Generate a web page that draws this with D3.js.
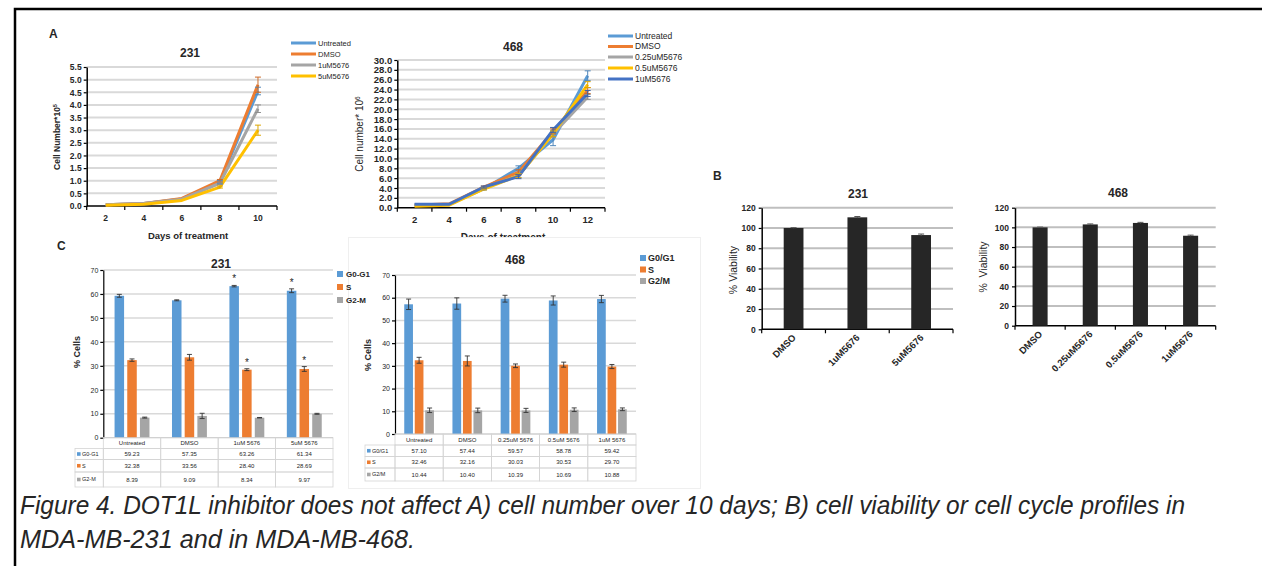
<!DOCTYPE html>
<html><head><meta charset="utf-8">
<script src="https://cdn.jsdelivr.net/npm/d3@7"></script>
<style>
body{margin:0;background:#fff}
svg{display:block}
text{font-family:"Liberation Sans",Arial,sans-serif;fill:#262626}
</style>
</head><body>
<svg id="c" width="1262" height="566"></svg>
<script>
// ---------------- Panel A: 231 growth ----------------
const daysA231 = ["2","4","6","8","10"];
const seriesA231 = ["Untreated","DMSO","1uM5676","5uM5676"];
const a231Untreated = [0.05,0.10,0.28,0.95,4.55];
const a231DMSO      = [0.05,0.10,0.30,1.00,4.80];
const a231uM1       = [0.05,0.10,0.27,0.90,3.85];
const a231uM5       = [0.03,0.07,0.22,0.75,3.00];
const a231UntreatedErr = [0,0,0,0.05,0.15];
const a231DMSOErr      = [0,0,0,0.05,0.30];
const a231uM1Err       = [0,0,0,0.05,0.15];
const a231uM5Err       = [0,0,0,0.04,0.20];
const yTicksA231 = [0,0.5,1,1.5,2,2.5,3,3.5,4,4.5,5,5.5];

// ---------------- Panel A: 468 growth ----------------
const daysA468 = ["2","4","6","8","10","12"];
const seriesA468 = ["Untreated","DMSO","0.25uM5676","0.5uM5676","1uM5676"];
const a468Untreated = [0.6,0.7,3.8,8.0,13.8,26.8];
const a468DMSO      = [0.5,0.8,4.2,7.2,15.5,23.8];
const a468uM025     = [0.5,0.7,4.0,6.5,15.0,22.5];
const a468uM05      = [0.3,0.5,3.8,6.5,15.0,25.0];
const a468uM1       = [0.7,0.7,4.2,6.3,15.8,23.2];
const a468UntreatedErr = [0,0,0.2,0.5,1.2,1.0];
const a468DMSOErr      = [0,0,0.2,0.5,0.5,0.6];
const a468uM025Err     = [0,0,0.2,0.4,0.6,0.5];
const a468uM05Err      = [0,0,0.2,0.4,0.6,0.6];
const a468uM1Err       = [0,0,0.2,0.4,0.5,0.6];
const yTicksA468 = [0,2,4,6,8,10,12,14,16,18,20,22,24,26,28,30];

// ---------------- Panel C: 231 cell cycle ----------------
const catsC231 = ["Untreated","DMSO","1uM 5676","5uM 5676"];
const phasesC231 = ["G0-G1","S","G2-M"];
const c231G0G1 = [59.23,57.35,63.26,61.34];
const c231S    = [32.38,33.56,28.40,28.69];
const c231G2M  = [8.39,9.09,8.34,9.97];
const c231G0G1Err = [0.6,0.2,0.3,0.8];
const c231SErr    = [0.5,1.2,0.4,1.0];
const c231G2MErr  = [0.2,1.1,0.1,0.2];
const c231SigCats = ["1uM 5676","5uM 5676"];
const c231SigPhases = ["G0-G1","S"];
const yTicksC = [0,10,20,30,40,50,60,70];

// ---------------- Panel C: 468 cell cycle ----------------
const catsC468 = ["Untreated","DMSO","0.25uM 5676","0.5uM 5676","1uM 5676"];
const phasesC468 = ["G0/G1","S","G2/M"];
const c468G0G1 = [57.10,57.44,59.57,58.78,59.42];
const c468S    = [32.46,32.16,30.03,30.53,29.70];
const c468G2M  = [10.44,10.40,10.39,10.69,10.88];
const c468G0G1Err = [2.3,2.5,1.5,2.0,1.6];
const c468SErr    = [1.3,2.2,0.8,1.1,0.9];
const c468G2MErr  = [1.0,1.0,0.9,0.8,0.6];

// ---------------- Panel B: viability ----------------
const catsB231 = ["DMSO","1uM5676","5uM5676"];
const viabB231 = [100,110.5,93];
const viabB231Err = [0.3,0.8,1.0];
const catsB468 = ["DMSO","0.25uM5676","0.5uM5676","1uM5676"];
const viabB468 = [100,103,104.5,91.5];
const viabB468Err = [0.3,0.5,0.6,0.6];
const yTicksB = [0,20,40,60,80,100,120];

const captionLines = [
  "Figure 4. DOT1L inhibitor does not affect A) cell number over 10 days; B) cell viability or cell cycle profiles in",
  "MDA-MB-231 and in MDA-MB-468."
];

const BLUE="#5b9bd5", ORANGE="#ed7d31", GRAY="#a5a5a5", YELLOW="#ffc000", DBLUE="#4472c4";

const svg = d3.select("#c");

// frame
svg.append("path").attr("d","M15,566V9H1262").attr("fill","none").attr("stroke","#000").attr("stroke-width",2.5);

function styleAxis(ax, fs, bold){
  ax.select(".domain").attr("stroke","#000").attr("stroke-width",1.5);
  ax.selectAll(".tick line").attr("stroke","#000").attr("stroke-width",1.2);
  ax.selectAll("text").attr("font-size",fs).attr("font-weight",bold?"bold":"normal").attr("fill","#262626");
}

function boundaryTicks(g, x, cats, yAxis, len){
  const b = cats.map(c=>x(c)).concat([x.range()[1]]);
  g.selectAll(null).data(b).join("line")
    .attr("x1",d=>d).attr("x2",d=>d).attr("y1",yAxis).attr("y2",yAxis+len)
    .attr("stroke","#000").attr("stroke-width",1.2);
}

function lineChart(o){
  const g = svg.append("g");
  const x = d3.scaleBand().domain(o.cats).range([o.x0,o.x1]);
  const y = d3.scaleLinear().domain([0,o.max]).range([o.yb,o.yt]);
  g.selectAll(null).data(o.ticks.slice(1)).join("line")
    .attr("x1",o.x0).attr("x2",o.x1).attr("y1",d=>y(d)).attr("y2",d=>y(d))
    .attr("stroke","#d9d9d9").attr("stroke-width",2);
  const ya = g.append("g").attr("transform",`translate(${o.x0},0)`)
    .call(d3.axisLeft(y).tickValues(o.ticks).tickFormat(d3.format(".1f")).tickSize(3).tickSizeOuter(0).tickPadding(2));
  styleAxis(ya,o.tfs,true);
  const xa = g.append("g").attr("transform",`translate(0,${o.yb})`)
    .call(d3.axisBottom(x).tickSize(0).tickPadding(o.xpad));
  styleAxis(xa,o.tfs,true);
  xa.select(".domain").attr("d",`M${o.x0},0H${o.x1}`);
  boundaryTicks(g,x,o.cats,o.yb,4);
  const line = d3.line().x((d,i)=>x(o.cats[i])+x.bandwidth()/2).y(d=>y(d));
  o.series.forEach(s=>{
    g.append("path").datum(s.values).attr("d",line).attr("fill","none")
      .attr("stroke",s.color).attr("stroke-width",3).attr("stroke-linejoin","round");
  });
  o.series.forEach(s=>{
    s.values.forEach((v,i)=>{
      const e=s.errs[i]; if(!e) return;
      const cx=x(o.cats[i])+x.bandwidth()/2;
      const eg=g.append("g").attr("stroke",d3.color(s.color).darker(0.4)).attr("stroke-width",1);
      eg.append("line").attr("x1",cx).attr("x2",cx).attr("y1",y(v-e)).attr("y2",y(v+e));
      eg.append("line").attr("x1",cx-3).attr("x2",cx+3).attr("y1",y(v-e)).attr("y2",y(v-e));
      eg.append("line").attr("x1",cx-3).attr("x2",cx+3).attr("y1",y(v+e)).attr("y2",y(v+e));
    });
  });
  o.series.forEach((s,i)=>{
    const ly=o.leg.y[i];
    g.append("line").attr("x1",o.leg.x).attr("x2",o.leg.x+o.leg.w).attr("y1",ly).attr("y2",ly)
      .attr("stroke",s.color).attr("stroke-width",3);
    g.append("text").attr("x",o.leg.x+o.leg.w+2).attr("y",ly).attr("dy","0.35em")
      .attr("font-size",o.leg.fs).text(s.name);
  });
  g.append("text").attr("x",o.title[0]).attr("y",o.title[1]).attr("text-anchor","middle")
    .attr("font-size",12).attr("font-weight","bold").text(o.titleText);
  g.append("text").attr("x",o.xl[0]).attr("y",o.xl[1]).attr("text-anchor","middle")
    .attr("font-size",o.xlfs).attr("font-weight","bold").text("Days of treatment");
  const yl=g.append("text").attr("transform",`translate(${o.yl[0]},${o.yl[1]}) rotate(-90)`)
    .attr("text-anchor","middle").attr("font-size",o.ylfs).attr("font-weight",o.ylbold?"bold":"normal");
  yl.append("tspan").text(o.ylText[0]);
  yl.append("tspan").attr("dy",-3).attr("font-size",o.ylfs*0.65).text(o.ylText[1]);
  return g;
}

lineChart({
  cats:daysA231, x0:86.7, x1:277, yb:206, yt:67, max:5.5, ticks:yTicksA231, tfs:8.5, xpad:9,
  series:[
    {name:seriesA231[0],values:a231Untreated,errs:a231UntreatedErr,color:BLUE},
    {name:seriesA231[1],values:a231DMSO,errs:a231DMSOErr,color:ORANGE},
    {name:seriesA231[2],values:a231uM1,errs:a231uM1Err,color:GRAY},
    {name:seriesA231[3],values:a231uM5,errs:a231uM5Err,color:YELLOW}],
  leg:{x:291,w:25,y:[43,54,65,76],fs:7.5},
  title:[190,57], titleText:"231", xl:[188,239], xlfs:9.5,
  yl:[60,137], ylfs:8.5, ylbold:true, ylText:["Cell Number*10","5"]
});

lineChart({
  cats:daysA468, x0:397.3, x1:605, yb:207.7, yt:60, max:30, ticks:yTicksA468, tfs:9.5, xpad:9,
  series:[
    {name:seriesA468[0],values:a468Untreated,errs:a468UntreatedErr,color:BLUE},
    {name:seriesA468[1],values:a468DMSO,errs:a468DMSOErr,color:ORANGE},
    {name:seriesA468[2],values:a468uM025,errs:a468uM025Err,color:GRAY},
    {name:seriesA468[3],values:a468uM05,errs:a468uM05Err,color:YELLOW},
    {name:seriesA468[4],values:a468uM1,errs:a468uM1Err,color:DBLUE}],
  leg:{x:608,w:25,y:[36,46.5,57,68,79],fs:8.5},
  title:[513,51], titleText:"468", xl:[503,241], xlfs:10,
  yl:[363,134], ylfs:10, ylbold:false, ylText:["Cell number* 10","6"]
});

// panel letters
svg.append("text").attr("x",49).attr("y",38).attr("font-size",12).attr("font-weight","bold").text("A");
svg.append("text").attr("x",713).attr("y",180).attr("font-size",12).attr("font-weight","bold").text("B");
svg.append("text").attr("x",57).attr("y",250).attr("font-size",12).attr("font-weight","bold").text("C");

// C 468 image background
svg.append("rect").attr("x",348.5).attr("y",237.5).attr("width",352).attr("height",251)
  .attr("fill","#fff").attr("stroke","#efefef").attr("stroke-width",1);

function groupedBar(o){
  const g = svg.append("g");
  const x = d3.scaleBand().domain(o.cats).range([o.x0,o.x1]);
  const y = d3.scaleLinear().domain([0,70]).range([o.yb,o.yt]);
  const x1 = d3.scaleBand().domain(o.phases).range([0,o.gw]).paddingInner(o.pi);
  g.selectAll(null).data(yTicksC.slice(1)).join("line")
    .attr("x1",o.x0).attr("x2",o.x1).attr("y1",d=>y(d)).attr("y2",d=>y(d))
    .attr("stroke","#d9d9d9").attr("stroke-width",1.5);
  const ya = g.append("g").attr("transform",`translate(${o.x0},0)`)
    .call(d3.axisLeft(y).tickValues(yTicksC).tickSize(3).tickSizeOuter(0).tickPadding(2));
  styleAxis(ya,o.tfs,false);
  ya.select(".domain").attr("stroke-width",1.2);
  g.append("line").attr("x1",o.x0).attr("x2",o.x1).attr("y1",o.yb).attr("y2",o.yb).attr("stroke","#bfbfbf").attr("stroke-width",1);
  const colors=[BLUE,ORANGE,GRAY];
  o.data.forEach((vals,si)=>{
    vals.forEach((v,ci)=>{
      const bx = x(o.cats[ci])+x.bandwidth()/2-o.gw/2+x1(o.phases[si]);
      g.append("rect").attr("x",bx).attr("y",y(v)).attr("width",x1.bandwidth()).attr("height",y(0)-y(v))
        .attr("fill",colors[si]);
      const cx=bx+x1.bandwidth()/2, e=o.errs[si][ci];
      const eg=g.append("g").attr("stroke","#333").attr("stroke-width",0.9);
      eg.append("line").attr("x1",cx).attr("x2",cx).attr("y1",y(v-e)).attr("y2",y(v+e));
      eg.append("line").attr("x1",cx-2.5).attr("x2",cx+2.5).attr("y1",y(v-e)).attr("y2",y(v-e));
      eg.append("line").attr("x1",cx-2.5).attr("x2",cx+2.5).attr("y1",y(v+e)).attr("y2",y(v+e));
      if(o.sigCats && o.sigCats.includes(o.cats[ci]) && o.sigPhases.includes(o.phases[si])){
        g.append("text").attr("x",cx).attr("y",y(v+e)-3).attr("text-anchor","middle")
          .attr("font-size",10).attr("fill","#404040").text("*");
      }
    });
  });
  g.append("text").attr("x",o.title[0]).attr("y",o.title[1]).attr("text-anchor","middle")
    .attr("font-size",12).attr("font-weight","bold").text(o.titleText);
  g.append("text").attr("transform",`translate(${o.yl[0]},${o.yl[1]}) rotate(-90)`)
    .attr("text-anchor","middle").attr("font-size",9).attr("font-weight","bold").text("% Cells");
  o.phases.forEach((p,i)=>{
    g.append("rect").attr("x",o.leg.x).attr("y",o.leg.y[i]-3).attr("width",6).attr("height",6).attr("fill",colors[i]);
    g.append("text").attr("x",o.leg.x+o.leg.dx).attr("y",o.leg.y[i]).attr("dy","0.35em")
      .attr("font-size",o.leg.fs).attr("font-weight","bold").text(p);
  });
  const rb=o.rows;
  const tg=g.append("g").attr("stroke","#d4d4d4").attr("stroke-width",0.8).attr("fill","none");
  o.cats.forEach(c=>{
    rb.slice(0,-1).forEach((r,ri)=>{
      tg.append("rect").attr("x",x(c)).attr("y",r).attr("width",x.bandwidth()).attr("height",rb[ri+1]-r);
    });
  });
  rb.slice(1,-1).forEach((r,ri)=>{
    tg.append("rect").attr("x",o.lx).attr("y",r).attr("width",o.x0-o.lx).attr("height",rb[ri+2]-r);
  });
  o.cats.forEach(c=>{
    g.append("text").attr("x",x(c)+x.bandwidth()/2).attr("y",(rb[0]+rb[1])/2).attr("dy","0.35em")
      .attr("text-anchor","middle").attr("font-size",6).attr("fill","#404040").text(c);
  });
  o.phases.forEach((p,si)=>{
    const cy=(rb[si+1]+rb[si+2])/2;
    g.append("rect").attr("x",o.lx+2).attr("y",cy-1.8).attr("width",3.6).attr("height",3.6).attr("fill",colors[si]);
    g.append("text").attr("x",o.lx+7).attr("y",cy).attr("dy","0.35em").attr("font-size",5.5).attr("fill","#404040").text(p);
    o.data[si].forEach((v,ci)=>{
      g.append("text").attr("x",x(o.cats[ci])+x.bandwidth()/2).attr("y",cy).attr("dy","0.35em")
        .attr("text-anchor","middle").attr("font-size",6).attr("fill","#404040").text(v.toFixed(2));
    });
  });
}

groupedBar({
  cats:catsC468, phases:phasesC468, data:[c468G0G1,c468S,c468G2M], errs:[c468G0G1Err,c468SErr,c468G2MErr],
  x0:395, x1:636, yb:434, yt:275, gw:29.7, pi:0.17, tfs:7,
  title:[515,264], titleText:"468", yl:[371,355],
  leg:{x:640,dx:8,y:[258,269.5,281],fs:9},
  rows:[434,445,456.5,468,481], lx:365
});

groupedBar({
  cats:catsC231, phases:phasesC231, data:[c231G0G1,c231S,c231G2M], errs:[c231G0G1Err,c231SErr,c231G2MErr],
  x0:103.3, x1:333, yb:437.7, yt:270, gw:34.9, pi:0.25, tfs:7,
  title:[221,268], titleText:"231", yl:[80,352],
  sigCats:c231SigCats, sigPhases:c231SigPhases,
  leg:{x:337,dx:9,y:[274,287,300],fs:8},
  rows:[437.7,448.5,459.5,472,487], lx:75
});

function viabChart(o){
  const g = svg.append("g");
  const x = d3.scaleBand().domain(o.cats).range([o.x0,o.x1]);
  const y = d3.scaleLinear().domain([0,120]).range([o.yb,o.yt]);
  g.selectAll(null).data(yTicksB.slice(1)).join("line")
    .attr("x1",o.x0).attr("x2",o.x1).attr("y1",d=>y(d)).attr("y2",d=>y(d))
    .attr("stroke","#bfbfbf").attr("stroke-width",2);
  const ya = g.append("g").attr("transform",`translate(${o.x0},0)`)
    .call(d3.axisLeft(y).tickValues(yTicksB).tickSize(3).tickSizeOuter(0).tickPadding(3));
  styleAxis(ya,8.5,true);
  g.append("line").attr("x1",o.x0).attr("x2",o.x1).attr("y1",o.yb).attr("y2",o.yb).attr("stroke","#000").attr("stroke-width",1.5);
  boundaryTicks(g,x,o.cats,o.yb,4);
  const bw = x.bandwidth()*o.bwr;
  o.values.forEach((v,i)=>{
    const cx=x(o.cats[i])+x.bandwidth()/2;
    g.append("rect").attr("x",cx-bw/2).attr("y",y(v)).attr("width",bw).attr("height",y(0)-y(v)).attr("fill","#262626");
    const e=o.errs[i];
    const eg=g.append("g").attr("stroke","#555").attr("stroke-width",1);
    eg.append("line").attr("x1",cx).attr("x2",cx).attr("y1",y(v-e)).attr("y2",y(v+e));
    eg.append("line").attr("x1",cx-3).attr("x2",cx+3).attr("y1",y(v+e)).attr("y2",y(v+e));
    g.append("text").attr("transform",`translate(${cx+3},${o.yb+9}) rotate(-45)`)
      .attr("text-anchor","end").attr("font-size",9.5).attr("font-weight","bold").text(o.cats[i]);
  });
  g.append("text").attr("x",o.title[0]).attr("y",o.title[1]).attr("text-anchor","middle")
    .attr("font-size",12).attr("font-weight","bold").text(o.titleText);
  g.append("text").attr("transform",`translate(${o.yl[0]},${o.yl[1]}) rotate(-90)`)
    .attr("text-anchor","middle").attr("font-size",10.5).attr("xml:space","preserve").text(o.ylText);
}

viabChart({cats:catsB231, values:viabB231, errs:viabB231Err, x0:761.7, x1:953, yb:329.3, yt:207.7, bwr:0.31,
  title:[858,198], titleText:"231", yl:[737,270], ylText:"% Viability"});
viabChart({cats:catsB468, values:viabB468, errs:viabB468Err, x0:1015, x1:1215.7, yb:325.7, yt:207.7, bwr:0.3,
  title:[1118,197], titleText:"468", yl:[987,267], ylText:"%  Viability"});

// caption
const capW=[1165,395], capY=[514,548];
captionLines.forEach((t,i)=>{
  svg.append("text").attr("x",20).attr("y",capY[i]).attr("font-size",25).attr("font-style","italic")
    .attr("fill","#000").attr("textLength",capW[i]).attr("lengthAdjust","spacingAndGlyphs")
    .style("font-family","'Liberation Sans Narrow','Liberation Sans',Arial,sans-serif").text(t);
});
</script>
</body></html>
